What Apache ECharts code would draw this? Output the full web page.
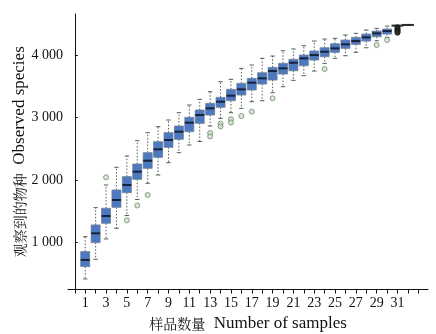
<!DOCTYPE html>
<html>
<head>
<meta charset="utf-8">
<script src="https://cdn.jsdelivr.net/npm/echarts@6/dist/echarts.min.js"></script>
<style>html,body{margin:0;padding:0;background:#fff}#c{width:436px;height:334px}</style>
</head>
<body>
<div id="c"></div>
<script>
const categories = [1,2,3,4,5,6,7,8,9,10,11,12,13,14,15,16,17,18,19,20,21,22,23,24,25,26,27,28,29,30,31,32];
const lowWhisker = [419,734,1059,1230,1435,1691,1950,2083,2280,2440,2563,2620,2867,2990,3080,3150,3256,3272,3400,3496,3598,3672,3747,3870,3950,3992,4046,4120,4232,4286,4468,4485];
const q1Values   = [616,1000,1310,1566,1800,2014,2190,2366,2526,2654,2776,2910,3043,3166,3272,3363,3443,3539,3603,3699,3752,3832,3923,3976,4046,4110,4174,4227,4296,4339,4470,4485];
const medianVals = [723,1150,1427,1683,1923,2136,2312,2494,2643,2776,2920,3043,3150,3256,3352,3454,3560,3630,3747,3790,3880,3950,4003,4056,4110,4174,4227,4286,4350,4387,4474,4485];
const q3Values   = [856,1283,1550,1843,2056,2259,2440,2616,2760,2867,3006,3123,3230,3326,3454,3550,3630,3720,3806,3870,3934,4003,4067,4120,4184,4243,4286,4339,4387,4419,4477,4485];
const highWhisker= [1096,1560,1923,2206,2387,2632,2760,2856,2963,3080,3203,3294,3416,3576,3614,3790,3843,3950,3987,4072,4100,4152,4227,4259,4270,4323,4350,4403,4430,4467,4480,4485];
const outlierCats   = [3,5,6,7,13,13,14,14,15,15,16,17,19,24,29,30,31,31,31,31,31,31,31];
const outlierValues = [2046,1358,1595,1763,2755,2700,2905,2860,2975,2925,3027,3096,3310,3779,4163,4243,4445,4430,4415,4400,4385,4370,4360];
const yTicks = [1000,2000,3000,4000];
const xLabelValues = [1,3,5,7,9,11,13,15,17,19,21,23,25,27,29,31];
const xTickValues = [0,1,2,3,4,5,6,7,8,9,10,11,12,13,14,15,16,17,18,19,20,21,22,23,24,25,26,27,28,29,30,31,32,33];
const xTitleZh = '样品数量', xTitleEn = 'Number of samples';
const yTitleZh = '观察到的物种', yTitleEn = 'Observed species';

const boxData = categories.map((c,i)=>[c, lowWhisker[i], q1Values[i], medianVals[i], q3Values[i], highWhisker[i]]);
const outData = outlierCats.map((c,i)=>{
  const d = {value:[c, outlierValues[i]]};
  if (c === 31) d.itemStyle = {color:'#2a2f2a', borderColor:'#1a1a1a'};
  return d;
});

const FONT = "'Liberation Serif', 'Times New Roman', serif";
const CJK = "'Noto Serif CJK SC', 'Noto Sans CJK SC', sans-serif";
const fmt = v => String(v).replace(/\B(?=(\d{3})+(?!\d))/g, ' ');
const titleRich = {
  zh:{fontFamily:CJK, fontSize:14, color:'#111'},
  en:{fontFamily:FONT, fontSize:17, color:'#111'}
};

const chart = echarts.init(document.getElementById('c'), null, {renderer:'canvas'});
chart.setOption({
  animation:false,
  backgroundColor:'#fff',
  grid:{left:68, right:8, top:14, bottom:44.5, containLabel:false, outerBoundsMode:'none'},
  xAxis:{
    type:'value', min:-0.654, max:33.93,
    name:'{zh|' + xTitleZh + '}  {en|' + xTitleEn + '}', nameLocation:'middle', nameGap:26, nameMoveOverlap:false,
    nameTextStyle:{fontFamily:FONT, fontSize:17, color:'#111', rich:titleRich},
    axisLine:{show:true, lineStyle:{color:'#111', width:1}},
    axisTick:{show:true, inside:false, length:4, customValues:xTickValues, lineStyle:{color:'#111'}},
    axisLabel:{customValues:xLabelValues, margin:7, fontFamily:FONT, fontSize:14, color:'#111'},
    splitLine:{show:false}
  },
  yAxis:{
    type:'value', min:250, max:4660,
    name:'{zh|' + yTitleZh + '}  {en|' + yTitleEn + '}', nameLocation:'middle', nameGap:40, nameRotate:90, nameMoveOverlap:false,
    nameTextStyle:{fontFamily:FONT, fontSize:17, color:'#111', rich:titleRich},
    axisLine:{show:true, lineStyle:{color:'#111', width:1}},
    axisTick:{show:true, inside:true, length:3, customValues:yTicks, lineStyle:{color:'#111'}},
    axisLabel:{customValues:yTicks, margin:5, formatter:fmt, fontFamily:FONT, fontSize:14, color:'#111'},
    splitLine:{show:false}
  },
  series:[
    {
      type:'custom', coordinateSystem:'cartesian2d', data:boxData,
      encode:{x:0, y:[1,2,3,4,5]},
      renderItem:function(params, api){
        const x = api.value(0);
        const pLow = api.coord([x, api.value(1)]);
        const pQ1 = api.coord([x, api.value(2)]);
        const pMed = api.coord([x, api.value(3)]);
        const pQ3 = api.coord([x, api.value(4)]);
        const pHigh = api.coord([x, api.value(5)]);
        const cx = pMed[0];
        const hw = 4.5, cw = 2.2;
        const wStyle = {stroke:'#4f5f55', lineWidth:1, lineDash:[1.5,1.8]};
        const cStyle = {stroke:'#4f5f55', lineWidth:1};
        const flat = (pQ1[1]-pQ3[1]) < 0.5;
        const children = [
          {type:'line', shape:{x1:cx, y1:pQ3[1], x2:cx, y2:pHigh[1]}, style:wStyle},
          {type:'line', shape:{x1:cx, y1:pQ1[1], x2:cx, y2:pLow[1]}, style:wStyle},
          {type:'line', shape:{x1:cx-cw, y1:pHigh[1], x2:cx+cw, y2:pHigh[1]}, style:cStyle},
          {type:'line', shape:{x1:cx-cw, y1:pLow[1], x2:cx+cw, y2:pLow[1]}, style:cStyle},
          {type:'rect', shape:{x:cx-hw, y:pQ3[1], width:hw*2, height:Math.max(pQ1[1]-pQ3[1],0)},
            style:{fill:'#4c79bf', stroke:'#6c7f9c', lineWidth:0.8}},
          {type:'line', shape:{x1:cx-(flat?6:hw), y1:pMed[1], x2:cx+(flat?6:hw), y2:pMed[1]},
            style:{stroke:flat?'#2a2a2a':'#17233d', lineWidth:2}}
        ];
        return {type:'group', children:children};
      },
      z:2
    },
    {
      type:'scatter', data:outData, symbol:'circle', symbolSize:5,
      itemStyle:{color:'#d3e0cc', borderColor:'#6a8a6a', borderWidth:1},
      z:3
    }
  ]
});
</script>
</body>
</html>
